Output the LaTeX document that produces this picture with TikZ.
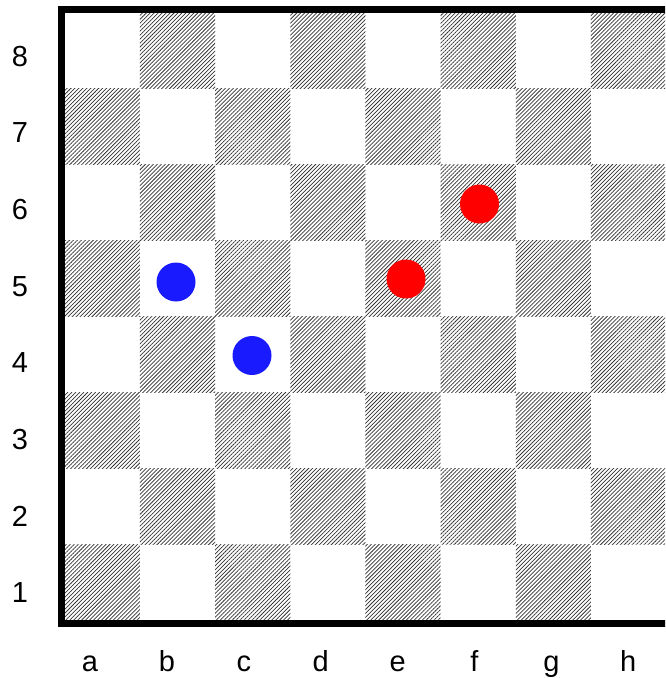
\documentclass[tikz,border=0pt]{standalone}
\usepackage{fontspec}
\setmainfont{Liberation Sans}
\usepackage{tikz}
\usetikzlibrary{patterns.meta}
\definecolor{pieceblue}{RGB}{26,26,255}
\definecolor{piecered}{RGB}{255,0,0}
\definecolor{hatchgray}{RGB}{50,50,50}

\begin{document}
\begin{tikzpicture}[x=0.75pt, y=-0.75pt,
    darksq/.style={pattern={Lines[angle=45, distance=2.1pt, line width=0.55pt]},
                   pattern color=hatchgray},
    piece/.style={circle, inner sep=0pt, minimum size=29.25pt},
    coordlabel/.style={font=\fontsize{21.75}{26}\selectfont, inner sep=0pt}]
  \useasboundingbox (0,0) rectangle (665,678);
  \clip (0,0) rectangle (665,678);

  % Hatched squares (a1 is dark)
  \foreach \f in {0,...,7} {
    \foreach \r in {0,...,7} {
      \pgfmathtruncatemacro{\parity}{mod(\f+\r,2)}
      \ifnum\parity=0
        \fill[darksq] ({64.8+\f*75.17},{620.2-\r*75.9}) rectangle ++(75.17,-75.9);
      \fi
    }
  }

  % Board frame
  \draw[line width=5.25pt] (61.7,9.7) rectangle (669.5,623.3);

  % Rank labels
  \foreach \r in {1,...,8}
    \node[coordlabel] (rank\r) at (20,{593-(\r-1)*76.7}) {\r};

  % File labels
  \foreach \f [count=\i from 0] in {a,b,c,d,e,f,g,h}
    \node[coordlabel, anchor=base] (file\f) at ({90+\i*76.9},671.7) {\f};

  % Pieces
  \node[piece, fill=pieceblue] (b5) at (176,282) {};
  \node[piece, fill=pieceblue] (c4) at (252,355.5) {};
  \node[piece, fill=piecered] (e5) at (406,279) {};
  \node[piece, fill=piecered] (f6) at (479.5,204) {};
\end{tikzpicture}
\end{document}
